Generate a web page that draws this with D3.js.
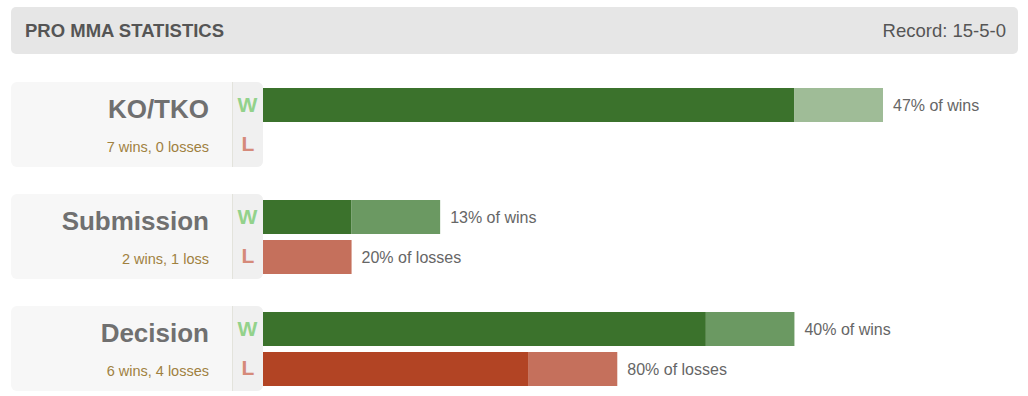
<!DOCTYPE html>
<html>
<head>
<meta charset="utf-8">
<script src="https://cdn.jsdelivr.net/npm/d3@7"></script>
<style>
  body { margin: 0; background: #fff; }
  svg text { font-family: "Liberation Sans", Arial, Helvetica, sans-serif; }
</style>
</head>
<body>
<div id="chart"></div>
<script>
// data
var methods = ["KO/TKO", "Submission", "Decision"];
var wins = [7, 2, 6];
var losses = [0, 1, 4];
// how many of each count are drawn in the lighter shade
var winsLight = [1, 1, 1];
var lossesLight = [0, 1, 1];
var record = [15, 5, 0];

var svgWidth = 1028;
var svgHeight = 396;

var svg = d3.select("#chart")
  .append("svg")
  .attr("width", svgWidth)
  .attr("height", svgHeight);

// header
svg.append("rect")
  .attr("x", 11).attr("y", 7)
  .attr("width", 1007).attr("height", 47)
  .attr("rx", 5)
  .attr("fill", "#e6e6e6");

svg.append("text")
  .attr("x", 25).attr("y", 37)
  .attr("font-size", 18.5)
  .attr("font-weight", "bold")
  .attr("fill", "#555")
  .text("PRO MMA STATISTICS");

svg.append("text")
  .attr("x", 1006).attr("y", 37)
  .attr("text-anchor", "end")
  .attr("font-size", 18.5)
  .attr("fill", "#555")
  .text("Record: " + record.join("-"));

// scales
var yScale = d3.scaleBand()
  .domain(methods)
  .range([82, 82 + 112 * 3])
  .paddingInner(0);

var xScale = d3.scaleLinear()
  .domain([0, d3.max(wins.concat(losses))])
  .range([263, 883]);

var totalWins = d3.sum(wins);
var totalLosses = d3.sum(losses);

var winDark = "#3b722c";
var winLight = ["#9fbc97", "#6b9962", "#6b9962"];
var lossDark = "#b24424";
var lossLight = "#c5705c";

var rows = methods.map(function(m, i) {
  return {
    method: m,
    wins: wins[i],
    losses: losses[i],
    winsLight: winsLight[i],
    lossesLight: lossesLight[i],
    idx: i
  };
});

var group = svg.selectAll(".method")
  .data(rows)
  .enter()
  .append("g")
  .attr("class", "method")
  .attr("transform", d => `translate(0, ${yScale(d.method)})`);

// left panel
group.append("rect")
  .attr("x", 11).attr("y", 0)
  .attr("width", 252).attr("height", 85)
  .attr("rx", 6)
  .attr("fill", "#f7f7f7");

// W/L column
group.append("path")
  .attr("d", "M232,0 H257 A6,6 0 0 1 263,6 V79 A6,6 0 0 1 257,85 H232 Z")
  .attr("fill", "#f0f0f0");

group.append("line")
  .attr("x1", 232.5).attr("x2", 232.5)
  .attr("y1", 0).attr("y2", 85)
  .attr("stroke", "#e3e3dc");

group.append("text")
  .attr("x", 209).attr("y", 36)
  .attr("text-anchor", "end")
  .attr("font-size", 26)
  .attr("font-weight", "bold")
  .attr("fill", "#707070")
  .text(d => d.method);

group.append("text")
  .attr("x", 209).attr("y", 70)
  .attr("text-anchor", "end")
  .attr("font-size", 14.5)
  .attr("fill", "#a0813f")
  .text(d => d.wins + " win" + (d.wins == 1 ? "" : "s") + ", " +
    d.losses + " loss" + (d.losses == 1 ? "" : "es"));

group.append("text")
  .attr("x", 247.5).attr("y", 30)
  .attr("text-anchor", "middle")
  .attr("font-size", 21)
  .attr("font-weight", "bold")
  .attr("fill", "#93d28b")
  .text("W");

group.append("text")
  .attr("x", 248).attr("y", 69)
  .attr("text-anchor", "middle")
  .attr("font-size", 21)
  .attr("font-weight", "bold")
  .attr("fill", "#d58a7a")
  .text("L");

// win bars
group.append("rect")
  .attr("x", xScale(0))
  .attr("y", 6)
  .attr("width", d => xScale(d.wins - d.winsLight) - xScale(0))
  .attr("height", 34)
  .attr("fill", winDark);

group.append("rect")
  .attr("x", d => xScale(d.wins - d.winsLight))
  .attr("y", 6)
  .attr("width", d => xScale(d.wins) - xScale(d.wins - d.winsLight))
  .attr("height", 34)
  .attr("fill", d => winLight[d.idx]);

group.filter(d => d.wins > 0)
  .append("text")
  .attr("x", d => xScale(d.wins) + 10)
  .attr("y", 23)
  .attr("dy", "0.35em")
  .attr("font-size", 16)
  .attr("fill", "#666")
  .text(d => Math.round(d.wins / totalWins * 100) + "% of wins");

// loss bars
var lossGroup = group.filter(d => d.losses > 0);

lossGroup.append("rect")
  .attr("x", xScale(0))
  .attr("y", 46)
  .attr("width", d => xScale(d.losses - d.lossesLight) - xScale(0))
  .attr("height", 34)
  .attr("fill", lossDark);

lossGroup.append("rect")
  .attr("x", d => xScale(d.losses - d.lossesLight))
  .attr("y", 46)
  .attr("width", d => xScale(d.losses) - xScale(d.losses - d.lossesLight))
  .attr("height", 34)
  .attr("fill", lossLight);

lossGroup.append("text")
  .attr("x", d => xScale(d.losses) + 10)
  .attr("y", 63)
  .attr("dy", "0.35em")
  .attr("font-size", 16)
  .attr("fill", "#666")
  .text(d => Math.round(d.losses / totalLosses * 100) + "% of losses");
</script>
</body>
</html>
